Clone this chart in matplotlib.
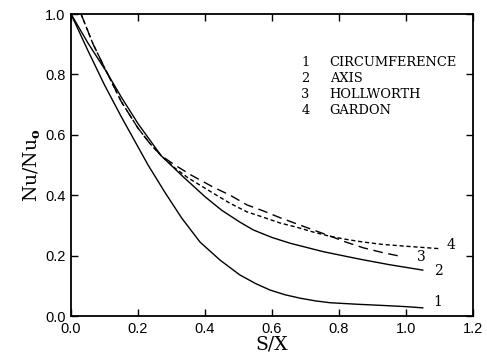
import matplotlib
matplotlib.use("Agg")
import matplotlib.pyplot as plt

# kurvedata lest av bildet
x1 = [0.0, 0.05, 0.1, 0.15, 0.185, 0.23, 0.28, 0.33, 0.385, 0.445, 0.504, 0.55, 0.594, 0.64, 0.684, 0.73, 0.773, 0.853, 0.93, 1.0, 1.05]
y1 = [1.0, 0.88, 0.765, 0.66, 0.59, 0.5, 0.41, 0.325, 0.245, 0.185, 0.136, 0.108, 0.086, 0.07, 0.059, 0.05, 0.044, 0.039, 0.035, 0.031, 0.027]

x2 = [0.0, 0.05, 0.105, 0.15, 0.2, 0.269, 0.331, 0.4, 0.45, 0.504, 0.544, 0.6, 0.654, 0.753, 0.863, 0.95, 1.05]
y2 = [1.0, 0.905, 0.81, 0.725, 0.637, 0.531, 0.465, 0.395, 0.35, 0.311, 0.285, 0.26, 0.241, 0.213, 0.188, 0.17, 0.152]

x3 = [0.03, 0.066, 0.11, 0.15, 0.2, 0.235, 0.269, 0.31, 0.358, 0.424, 0.475, 0.525, 0.574, 0.625, 0.674, 0.723, 0.773, 0.82, 0.872, 0.93, 0.991]
y3 = [1.0, 0.9, 0.8, 0.71, 0.622, 0.572, 0.531, 0.5, 0.467, 0.427, 0.40, 0.368, 0.348, 0.325, 0.305, 0.285, 0.265, 0.245, 0.226, 0.21, 0.196]

x4 = [0.03, 0.066, 0.11, 0.15, 0.2, 0.235, 0.269, 0.31, 0.35, 0.424, 0.475, 0.525, 0.574, 0.624, 0.674, 0.723, 0.773, 0.82, 0.872, 0.93, 1.0, 1.05, 1.1]
y4 = [1.0, 0.9, 0.8, 0.71, 0.622, 0.572, 0.531, 0.49, 0.457, 0.407, 0.373, 0.345, 0.327, 0.308, 0.294, 0.278, 0.264, 0.254, 0.245, 0.237, 0.231, 0.227, 0.223]

nummer = ["1", "2", "3", "4"]
navn = ["CIRCUMFERENCE", "AXIS", "HOLLWORTH", "GARDON"]
# hvor tallene står ved kurveendene (x, y)
tallpos = [(1.096, 0.046), (1.096, 0.149), (1.045, 0.195), (1.134, 0.235)]

plt.rcParams["mathtext.fontset"] = "dejavuserif"

fig = plt.figure(figsize=(4.87, 3.6), dpi=100)
ax = fig.add_axes([0.1458, 0.1222, 0.8255, 0.8389])

ax.plot(x1, y1, color="black", lw=1.0)
ax.plot(x2, y2, color="black", lw=1.0)
ax.plot(x3, y3, color="black", lw=1.0, dashes=(7, 4))
ax.plot(x4, y4, color="black", lw=1.0, dashes=(3, 2))

for i in range(4):
    ax.text(tallpos[i][0], tallpos[i][1], nummer[i], fontsize=10, family="DejaVu Serif",
            va="center", ha="center")

# forklaring
for i in range(len(navn)):
    yy = 0.838 - i * 0.052
    ax.text(0.70, yy, nummer[i], fontsize=9.4, family="DejaVu Serif", va="center", ha="center")
    ax.text(0.772, yy, navn[i], fontsize=9.4, family="DejaVu Serif", va="center")

ax.set_xlim(0, 1.2)
ax.set_ylim(0, 1.0)
ax.set_xticks([0.0, 0.2, 0.4, 0.6, 0.8, 1.0, 1.2])
ax.set_yticks([0.0, 0.2, 0.4, 0.6, 0.8, 1.0])
ax.set_xticklabels(["0.0", "0.2", "0.4", "0.6", "0.8", "1.0", "1.2"], family="Liberation Sans", fontsize=10.5)
ax.set_yticklabels(["0.0", "0.2", "0.4", "0.6", "0.8", "1.0"], family="Liberation Sans", fontsize=10.5)
ax.tick_params(direction="in", length=5, width=1.0, top=True, right=True, pad=4)
for s in ax.spines.values():
    s.set_linewidth(1.3)

ax.set_xlabel("S/X", family="DejaVu Serif", fontsize=13.5, labelpad=0)
ax.set_ylabel(r"Nu/Nu$_{\mathbf{o}}$", family="DejaVu Serif", fontsize=13.5, labelpad=2)

fig.savefig("out.png", dpi=100)
